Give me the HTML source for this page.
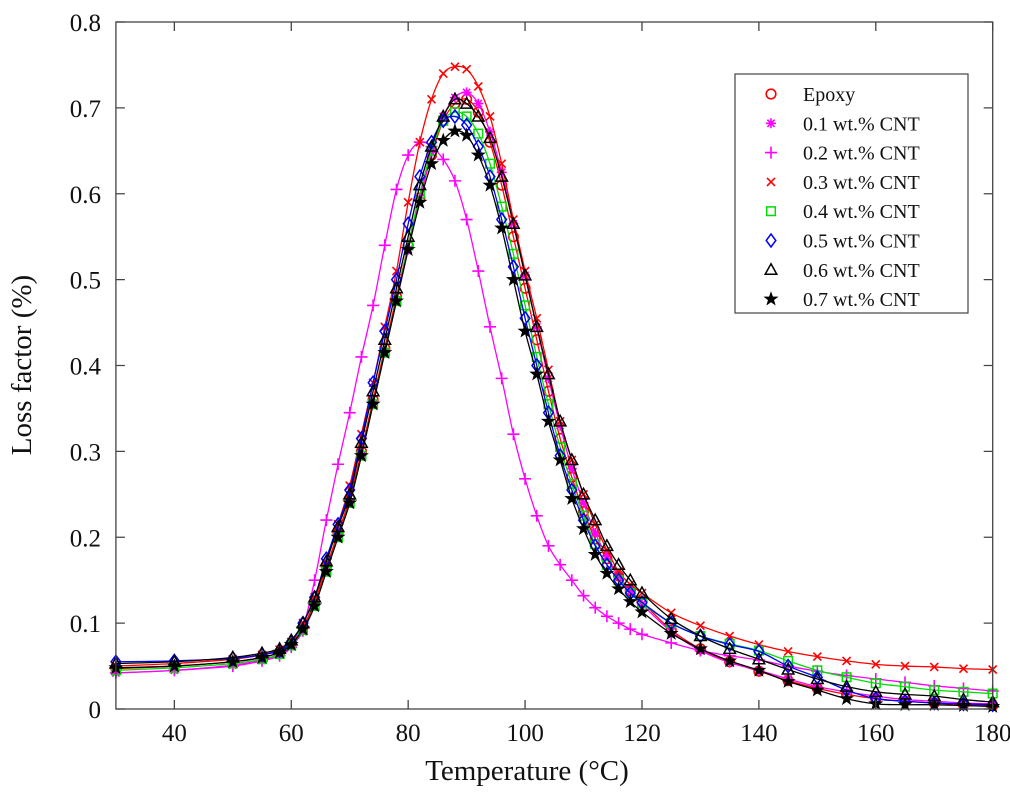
<!DOCTYPE html>
<html><head><meta charset="utf-8"><style>
html,body{margin:0;padding:0;background:#fff;}
svg{display:block;font-family:"Liberation Serif",serif;}
</style></head><body>
<svg id="chart" width="1010" height="792" viewBox="0 0 1010 792" xmlns="http://www.w3.org/2000/svg">
<rect x="0" y="0" width="1010" height="792" fill="#fff"/>
<g id="plot"></g>
<g id="axes"></g>
<g id="legend"></g>
</svg>
<script>
const temps=[30,40,50,55,58,60,62,64,66,68,70,72,74,76,78,80,82,84,86,88,90,92,94,96,98,100,102,104,106,108,110,112,114,116,118,120,125,130,135,140,145,150,155,160,165,170,175,180];
const epoxy=[.047,.05,.055,.06,.066,.076,.095,.125,.165,.205,.245,.30,.36,.42,.48,.54,.595,.645,.685,.705,.71,.695,.66,.61,.55,.49,.43,.37,.315,.27,.23,.198,.175,.155,.138,.125,.092,.07,.055,.044,.033,.024,.017,.012,.009,.007,.005,.004];
const cnt01=[.042,.045,.051,.057,.063,.073,.09,.12,.16,.2,.24,.295,.355,.415,.475,.535,.595,.648,.69,.712,.718,.705,.672,.625,.565,.505,.445,.385,.33,.28,.24,.205,.178,.155,.137,.122,.09,.068,.054,.045,.035,.026,.02,.015,.011,.009,.007,.006];
const cnt02=[.042,.045,.05,.056,.062,.072,.095,.15,.22,.285,.345,.41,.47,.54,.605,.645,.66,.655,.64,.615,.57,.51,.445,.385,.32,.268,.225,.19,.168,.15,.132,.118,.108,.1,.093,.087,.077,.068,.062,.057,.05,.044,.039,.035,.031,.027,.024,.021];
const cnt03=[.05,.053,.058,.063,.069,.078,.1,.13,.17,.215,.26,.32,.38,.445,.51,.59,.66,.71,.74,.748,.745,.725,.69,.635,.57,.51,.455,.395,.335,.29,.25,.215,.185,.16,.145,.135,.112,.097,.085,.075,.067,.061,.056,.052,.05,.049,.047,.046];
const cnt04=[.045,.048,.053,.058,.064,.074,.092,.12,.16,.2,.24,.295,.355,.415,.475,.54,.6,.65,.685,.695,.69,.67,.635,.585,.53,.47,.41,.355,.305,.262,.225,.192,.168,.15,.135,.123,.1,.085,.076,.068,.056,.045,.037,.03,.026,.022,.02,.018];
const cnt05=[.055,.056,.059,.063,.068,.078,.1,.13,.175,.215,.255,.315,.38,.44,.5,.565,.62,.66,.685,.69,.68,.655,.62,.57,.515,.455,.4,.345,.295,.255,.22,.19,.168,.15,.135,.124,.1,.085,.075,.067,.05,.037,.022,.012,.009,.007,.006,.005];
const cnt06=[.053,.055,.06,.065,.07,.08,.1,.13,.172,.212,.25,.31,.37,.43,.49,.55,.61,.655,.69,.71,.705,.69,.665,.62,.565,.505,.445,.39,.335,.29,.25,.22,.19,.168,.15,.135,.105,.085,.07,.058,.046,.035,.026,.02,.017,.015,.011,.008];
const cnt07=[.048,.05,.055,.06,.066,.075,.093,.12,.16,.2,.24,.295,.355,.415,.475,.535,.59,.635,.662,.673,.668,.645,.61,.56,.5,.44,.39,.335,.29,.245,.21,.18,.158,.14,.125,.113,.088,.07,.056,.045,.032,.022,.012,.006,.005,.005,.004,.003];
const seriesNames=["Epoxy","0.1 wt.% CNT","0.2 wt.% CNT","0.3 wt.% CNT","0.4 wt.% CNT","0.5 wt.% CNT","0.6 wt.% CNT","0.7 wt.% CNT"];
const xTicks=[40,60,80,100,120,140,160,180];
const yTicks=[0,0.1,0.2,0.3,0.4,0.5,0.6,0.7,0.8];
const yTickLabels=["0","0.1","0.2","0.3","0.4","0.5","0.6","0.7","0.8"];

const NS="http://www.w3.org/2000/svg";
const L=115.9,R=992.7,T0=22,B=709;
const xMin=30,xMax=180,yMin=0,yMax=0.8;
function sx(v){return L+(v-xMin)/(xMax-xMin)*(R-L);}
function sy(v){return B-(v-yMin)/(yMax-yMin)*(B-T0);}
function mk(tag,attrs,parent){const e=document.createElementNS(NS,tag);for(const k in attrs)e.setAttribute(k,attrs[k]);parent.appendChild(e);return e;}

const allData=[epoxy,cnt01,cnt02,cnt03,cnt04,cnt05,cnt06,cnt07];
const colors=["#ff0000","#ff00ff","#ff00ff","#ff0000","#00dd00","#0000ff","#000000","#000000"];
const markers=["circle","asterisk","plus","cross","square","diamond","triangle","star"];
const keys=["epoxy","cnt-0-1","cnt-0-2","cnt-0-3","cnt-0-4","cnt-0-5","cnt-0-6","cnt-0-7"];

function drawMarker(g,type,x,y,c){
  const s=5;let e;
  if(type==="circle"){e=mk("circle",{cx:x,cy:y,r:4.8,fill:"none",stroke:c,"stroke-width":1.6},g);}
  else if(type==="plus"){e=mk("path",{d:`M${x-s-1},${y}H${x+s+1}M${x},${y-s-1}V${y+s+1}`,stroke:c,"stroke-width":1.6,fill:"none"},g);}
  else if(type==="cross"){e=mk("path",{d:`M${x-4},${y-4}L${x+4},${y+4}M${x-4},${y+4}L${x+4},${y-4}`,stroke:c,"stroke-width":1.6,fill:"none"},g);}
  else if(type==="asterisk"){e=mk("path",{d:`M${x-5},${y}H${x+5}M${x},${y-5}V${y+5}M${x-3.6},${y-3.6}L${x+3.6},${y+3.6}M${x-3.6},${y+3.6}L${x+3.6},${y-3.6}`,stroke:c,"stroke-width":1.6,fill:"none"},g);}
  else if(type==="square"){e=mk("rect",{x:x-4.3,y:y-4.3,width:8.6,height:8.6,fill:"none",stroke:c,"stroke-width":1.5},g);}
  else if(type==="diamond"){e=mk("path",{d:`M${x},${y-6.5}L${x+4.8},${y}L${x},${y+6.5}L${x-4.8},${y}Z`,fill:"none",stroke:c,"stroke-width":1.5},g);}
  else if(type==="triangle"){e=mk("path",{d:`M${x},${y-6}L${x+5.8},${y+4.5}L${x-5.8},${y+4.5}Z`,fill:"none",stroke:c,"stroke-width":1.5},g);}
  else {let p="";for(let i=0;i<10;i++){const a=-Math.PI/2+i*Math.PI/5;const r=i%2?2.8:7;p+=(i?"L":"M")+(x+r*Math.cos(a)).toFixed(2)+","+(y+r*Math.sin(a)).toFixed(2);}e=mk("path",{d:p+"Z",fill:c,stroke:c,"stroke-width":0.6},g);}
  return e;
}
function smoothPath(px,py){
  let d=`M${px[0]},${py[0]}`;
  for(let i=0;i<px.length-1;i++){
    const x0=px[Math.max(0,i-1)],y0=py[Math.max(0,i-1)],x1=px[i],y1=py[i],x2=px[i+1],y2=py[i+1],x3=px[Math.min(px.length-1,i+2)],y3=py[Math.min(px.length-1,i+2)];
    d+=`C${(x1+(x2-x0)/6).toFixed(2)},${(y1+(y2-y0)/6).toFixed(2)} ${(x2-(x3-x1)/6).toFixed(2)},${(y2-(y3-y1)/6).toFixed(2)} ${x2.toFixed(2)},${y2.toFixed(2)}`;
  }
  return d;
}
const plot=document.getElementById("plot");
allData.forEach((vals,si)=>{
  const g=mk("g",{},plot);
  
  
  const px=temps.map(sx),py=vals.map(sy);
  const line=mk("path",{d:smoothPath(px,py),fill:"none",stroke:colors[si],"stroke-width":1.3},g);
  
  
  vals.forEach((v,i)=>{
    const m=drawMarker(g,markers[si],sx(temps[i]),sy(v),colors[si]);
    
    
  });
});

const axes=document.getElementById("axes");
const frame=mk("rect",{x:L,y:T0,width:R-L,height:B-T0,fill:"none",stroke:"#444","stroke-width":1.3},axes);


xTicks.forEach(t=>{
  const x=sx(t);
  const tk=mk("path",{d:`M${x},${B}V${B-9}M${x},${T0}V${T0+9}`,stroke:"#444","stroke-width":1.3},axes);
  
  
  const lb=mk("text",{x:x,y:741,"text-anchor":"middle","font-size":25,fill:"#111"},axes);
  lb.textContent=String(t);
  
  
});
yTicks.forEach((t,i)=>{
  const y=sy(t);
  const tk=mk("path",{d:`M${L},${y}H${L+9}M${R},${y}H${R-9}`,stroke:"#444","stroke-width":1.3},axes);
  
  
  const lb=mk("text",{x:101,y:y+9,"text-anchor":"end","font-size":25,fill:"#111"},axes);
  lb.textContent=yTickLabels[i];
  
  
});
const xt=mk("text",{x:527,y:780,"text-anchor":"middle","font-size":29,fill:"#111"},axes);
xt.textContent="Temperature (°C)";


const yt=mk("text",{x:0,y:0,"text-anchor":"middle","font-size":29,fill:"#111",transform:"translate(31,365) rotate(-90)"},axes);
yt.textContent="Loss factor (%)";



const leg=document.getElementById("legend");


mk("rect",{x:735,y:74,width:233,height:239,fill:"#fff",stroke:"#444","stroke-width":1.2},leg);
seriesNames.forEach((n,i)=>{
  const y=94+i*29.3;
  const g=mk("g",{},leg);
  
  
  drawMarker(g,markers[i],771,y,colors[i]);
  const tx=mk("text",{x:803,y:y+7,"font-size":20,fill:"#111"},g);
  tx.textContent=n;
});
</script>
</body></html>
